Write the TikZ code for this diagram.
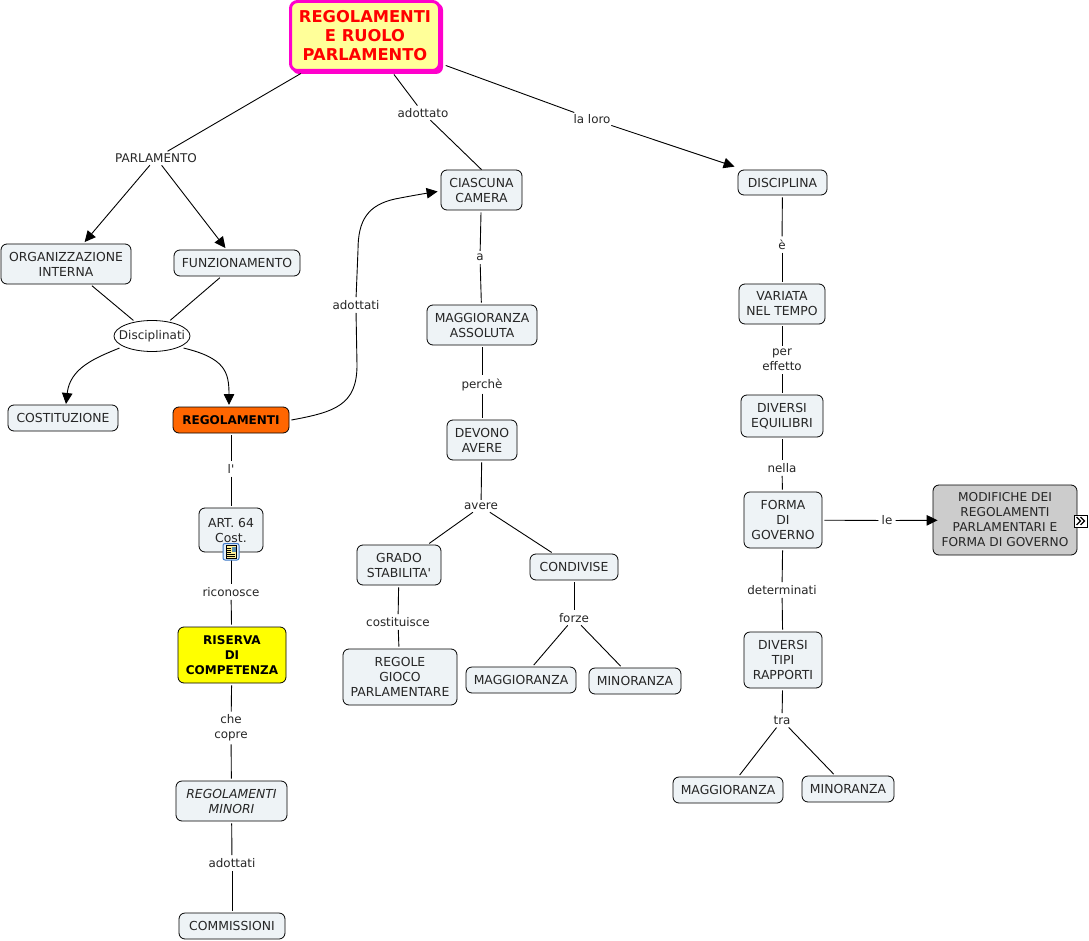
\documentclass[tikz,border=0pt]{standalone}
\usepackage{fontspec}
\setmainfont{DejaVu Sans}
\newfontfamily\plainf{DejaVu Sans}
\usetikzlibrary{arrows.meta,shapes.geometric}
\definecolor{boxfill}{HTML}{EEF3F6}
\definecolor{rootfill}{HTML}{FFFF99}
\definecolor{mag}{HTML}{FF00CC}
\definecolor{orng}{HTML}{FF6600}
\definecolor{gry}{HTML}{CCCCCC}
\definecolor{yel}{HTML}{FFFF00}
\definecolor{icb}{HTML}{3C78C8}
\definecolor{icf}{HTML}{E1EEFA}
\definecolor{icy}{HTML}{FFF096}
\definecolor{icp}{HTML}{5A8FB0}
\tikzset{
 nbox/.style={draw=black,line width=0.8pt,rounded corners=6pt,fill=boxfill,inner sep=0pt,align=center,
   font=\fontsize{12.4}{15}\selectfont,text=black!85},
 lab/.style={inner sep=1pt,align=center,font=\fontsize{11.9}{15}\selectfont,text=black!85},
 conn/.style={line width=0.9pt,black,shorten >=2pt,shorten <=2pt},
 arr/.style={conn,-{Triangle[length=11pt,width=10.5pt,fill=black]}},
 bld/.style={font=\fontsize{12}{15}\selectfont\bfseries,text=black},
}
\newcommand{\bx}[6][]{\node[nbox,#1,minimum width=#4pt,minimum height=#5pt] (#2) at (#3) {#6};}
\begin{document}
\begin{tikzpicture}[x=1pt,y=-1pt]
\useasboundingbox (0,0) rectangle (1089,941);
\fill[white] (0,0) rectangle (1089,941);
% nodes
\node[fill=mag,rounded corners=7pt,inner sep=0pt,minimum width=151pt,minimum height=71pt] (rootsh) at (367.5,38.5) {};
\node[draw=mag,fill=rootfill,line width=3pt,rounded corners=7pt,inner sep=0pt,align=center,minimum width=149pt,minimum height=69pt,
 font=\fontsize{16.3}{19}\selectfont\bfseries,text=red] (root) at (365,36) {REGOLAMENTI\\E RUOLO\\PARLAMENTO};
\bx{cia}{481.5,190}{81}{40}{CIASCUNA\\CAMERA}
\bx{dis}{782.5,182.5}{89}{25}{DISCIPLINA}
\bx{org}{66,264}{130}{40}{ORGANIZZAZIONE\\INTERNA}
\bx{fun}{237,263}{126}{26}{FUNZIONAMENTO}
\node[draw=black,line width=0.8pt,fill=white,ellipse,inner sep=0pt,minimum width=76pt,minimum height=31pt,
 label={[lab,font=\fontsize{12}{15}\selectfont]center:Disciplinati}] (dsc) at (152,336) {};
\bx{cos}{63,418}{110}{26}{COSTITUZIONE}
\bx[fill=orng,bld]{reg}{231,420}{116}{26}{REGOLAMENTI}
\bx{art}{231,530}{64}{44}{ART. 64\\Cost.}
\bx[fill=yel,bld]{ris}{232,655}{108}{56}{RISERVA\\DI\\COMPETENZA}
\bx[font=\fontsize{12.4}{15}\selectfont\itshape]{rem}{231.5,801}{111}{40}{REGOLAMENTI\\MINORI}
\bx{com}{232,926}{106}{26}{COMMISSIONI}
\bx{mas}{482,325}{110}{40}{MAGGIORANZA\\ASSOLUTA}
\bx{dev}{482,440}{70}{40}{DEVONO\\AVERE}
\bx{gra}{399,565}{84}{40}{GRADO\\{\plainf STABILITA'}}
\bx{con}{574,567}{88}{26}{CONDIVISE}
\bx{rgl}{400,677}{114}{56}{REGOLE\\GIOCO\\PARLAMENTARE}
\bx{mg1}{521,680}{110}{26}{MAGGIORANZA}
\bx{mn1}{635,681}{92}{26}{MINORANZA}
\bx{var}{782,304}{86}{40}{VARIATA\\NEL TEMPO}
\bx{dve}{782,416}{82}{42}{DIVERSI\\EQUILIBRI}
\bx{for}{783,520}{78}{56}{FORMA\\DI\\GOVERNO}
\bx{dvt}{783,660}{78}{56}{DIVERSI\\TIPI\\RAPPORTI}
\bx{mg2}{728,790}{110}{26}{MAGGIORANZA}
\bx{mn2}{848,789}{92}{26}{MINORANZA}
\bx[fill=gry,font=\fontsize{12.2}{15}\selectfont]{mod}{1005,520}{144}{70}{MODIFICHE DEI\\REGOLAMENTI\\PARLAMENTARI E\\FORMA DI GOVERNO}
% labels
\node[lab,font=\fontsize{12}{15}\selectfont] (lparl) at (156,158) {PARLAMENTO};
\node[lab] (lado) at (423,113) {adottato};
\node[lab] (lloro) at (592,119) {la loro};
\node[lab] (le) at (782,244.5) {è};
\node[lab] (la) at (480,257.5) {a};
\node[lab] (ladt) at (356,305) {adottati};
\node[lab] (lper) at (782,360) {per\\effetto};
\node[lab] (lpch) at (482,384.5) {perchè};
\node[lab] (lnel) at (782,468) {nella};
\node[lab] (lave) at (481,506.5) {avere};
\node[lab] (ll) at (231,469) {{\plainf l'}};
\node[lab] (lric) at (231,592) {riconosce};
\node[lab] (lcos) at (398,622) {costituisce};
\node[lab] (lfor) at (574,618) {forze};
\node[lab] (lle) at (887,520.5) {le};
\node[lab] (ldet) at (782,590) {determinati};
\node[lab] (ltra) at (782,720.5) {tra};
\node[lab] (lche) at (231,728) {che\\copre};
\node[lab] (lad2) at (232,863) {adottati};
% connectors
\draw[conn,shorten <=3pt] (root) -- (lparl);
\draw[arr] (lparl) -- (org);
\draw[arr] (lparl) -- (fun);
\draw[conn,shorten <=3pt] (root) -- (lado);
\draw[conn,shorten >=0pt] (lado) -- (cia.north);
\draw[conn,shorten <=5pt] (root) -- (lloro);
\draw[arr,shorten >=0pt] (lloro) -- ([shift={(-3,-3)}]dis.north west);
\draw[conn] (org) -- (dsc);
\draw[conn] (fun) -- (dsc);
\draw[arr,shorten <=0pt,shorten >=0pt] ([shift={(-1,3)}]dsc.196) .. controls (95,358) and (70,368) .. (66,404);
\draw[arr,shorten <=0pt,shorten >=0pt] ([shift={(0,3)}]dsc.-16) .. controls (225,358) and (229,372) .. (229,405);
\draw[conn,shorten <=0pt] ([xshift=2pt]reg.east) .. controls (335,412) and (357,405) .. (357,365) -- (ladt.south);
\draw[arr,shorten >=0pt] (ladt.north) -- (358,250) .. controls (358,220) and (368,205) .. (395,199) .. controls (410,196) and (425,193.5) .. ([shift={(-3,1.5)}]cia.west);
\draw[conn] (cia) -- (la);
\draw[conn] (la) -- (mas);
\draw[conn] (mas) -- (lpch);
\draw[conn] (lpch) -- (dev);
\draw[conn] (dev) -- (lave);
\draw[conn] (lave) -- (gra);
\draw[conn] (lave) -- (con);
\draw[conn] (gra) -- (lcos);
\draw[conn] (lcos) -- (rgl);
\draw[conn] (con) -- (lfor);
\draw[conn] (lfor) -- (mg1);
\draw[conn] (lfor) -- (mn1);
\draw[conn] (reg) -- (ll);
\draw[conn] (ll) -- (art);
\draw[conn] (art) -- (lric);
\draw[conn] (lric) -- (ris);
\draw[conn] (ris) -- (lche);
\draw[conn] (lche) -- (rem);
\draw[conn] (rem) -- (lad2);
\draw[conn] (lad2) -- (com);
\draw[conn] (dis) -- (le);
\draw[conn] (le) -- (var);
\draw[conn] (var) -- (lper);
\draw[conn] (lper) -- (dve);
\draw[conn] (dve) -- (lnel);
\draw[conn] (lnel) -- (for);
\draw[conn] (for) -- (lle);
\draw[arr,shorten >=-5pt] (lle) -- (mod);
\draw[conn] (for) -- (ldet);
\draw[conn] (ldet) -- (dvt);
\draw[conn] (dvt) -- (ltra);
\draw[conn] (ltra) -- (mg2);
\draw[conn] (ltra) -- (mn2);
% document icon on ART. 64
\draw[draw=icb,fill=icf,line width=1pt,rounded corners=2pt] (223,543.5) rectangle (239,560);
\fill[icy] (226,545.5) rectangle (236.5,558);
\draw[black,line width=0.5pt] (226,545.5) rectangle (236.5,558);
\fill[icp] (231.5,547) rectangle (235.5,551.5);
\foreach \yy in {548,550,552}{\draw[black,line width=0.6pt] (227.2,\yy) -- (230.6,\yy);}
\foreach \yy in {554,556}{\draw[black,line width=0.6pt] (227.2,\yy) -- (235.3,\yy);}
% expand marker
\draw[black,fill=white,line width=0.8pt] (1074,515) rectangle (1087,527);
\draw[black,line width=1.1pt] (1076.5,517) -- (1080.5,521) -- (1076.5,525) (1080.5,517) -- (1084.5,521) -- (1080.5,525);
\end{tikzpicture}
\end{document}
